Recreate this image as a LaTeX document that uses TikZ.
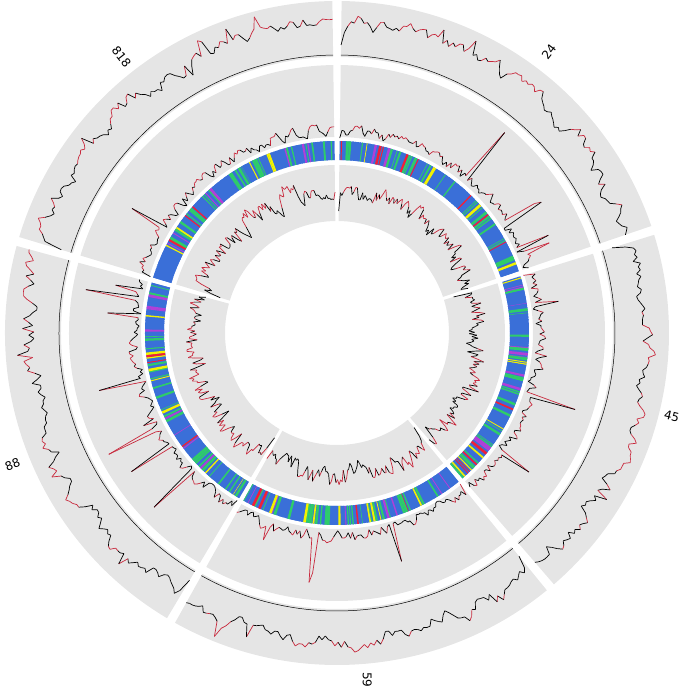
\documentclass[tikz,border=0pt]{standalone}
\usepackage{fontspec}
\setmainfont{DejaVu Sans}
\definecolor{ring}{HTML}{E5E5E5}
\definecolor{lred}{HTML}{C8283C}
\definecolor{bblue}{HTML}{3A6FD8}
\definecolor{bgreen}{HTML}{2ECC6A}
\definecolor{byel}{HTML}{F2F200}
\definecolor{bred}{HTML}{F0203A}
\definecolor{bpur}{HTML}{B040D8}
\newcommand\wedgefill[5]{% a0 a1 r0 r1 color
  \fill[#5] (#1:#3) arc[start angle=#1,end angle=#2,radius=#3] -- (#2:#4) arc[start angle=#2,end angle=#1,radius=#4] -- cycle;}
\newcommand\trk[7]{% a0 a1 base amp thresh spikeamp smoothing
  \pgfmathtruncatemacro\NN{(#1-#2)/0.6}
  \xdef\pa{#1}\xdef\pr{#3}\xdef\pv{0.4}
  \foreach \i in {1,...,\NN}{
    \pgfmathsetmacro\aa{#1-\i*(#1-#2)/\NN}
    \pgfmathsetmacro\vv{#7*\pv+(1-#7)*rnd}
    \pgfmathsetmacro\sp{rnd>0.94?rnd*#6:0}
    \pgfmathsetmacro\rr{#3+#4*\vv+\sp}
    \pgfmathtruncatemacro\hi{(\vv>#5)||(\sp>0)?1:0}
    \ifnum\hi=1 \def\cc{lred}\else\def\cc{black}\fi
    \draw[\cc,line width=0.7pt,line join=round] (\pa:\pr) -- (\aa:\rr);
    \xdef\pa{\aa}\xdef\pr{\rr}\xdef\pv{\vv}
  }}
\newcommand\band[2]{%
  \wedgefill{#1}{#2}{173}{192}{bblue}
  \pgfmathtruncatemacro\NN{(#1-#2)/0.7}
  \foreach \i in {1,...,\NN}{
    \pgfmathsetmacro\aa{#1-\i*(#1-#2)/\NN}
    \pgfmathsetmacro\q{rnd}
    \pgfmathsetmacro\w{0.2+0.7*rnd}
    \pgfmathtruncatemacro\k{\q<0.55?0:(\q<0.8?1:(\q<0.87?2:(\q<0.93?3:4)))}
    \ifcase\k\relax\def\cc{bblue}\or\def\cc{bgreen}\or\def\cc{byel}\or\def\cc{bred}\or\def\cc{bpur}\fi
    \fill[\cc] (\aa:173) -- (\aa:192) -- ({\aa+\w}:192) -- ({\aa+\w}:173) -- cycle;
  }}
\begin{document}
\begin{tikzpicture}[x=1pt,y=1pt]
\useasboundingbox (-337,-362) rectangle (348,333);
\pgfmathsetseed{7}
\def\secs{89.2/18.8,17.2/-49.2,-50.8/-119.2,-120.8/-195.2,-196.8/-269.2}
\foreach \s/\e in \secs{
  \wedgefill{\s}{\e}{276}{332}{ring}
  \draw[black,line width=0.5pt] (\s:278) arc[start angle=\s,end angle=\e,radius=278];
  \wedgefill{\s}{\e}{196}{268}{ring}
  \wedgefill{\s}{\e}{112}{168}{ring}
}
\foreach \s/\e in \secs{
  \band{\s}{\e}
  \trk{\s}{\e}{288}{42}{0.56}{14}{0.72}
  \trk{\s}{\e}{195}{16}{0.62}{60}{0.4}
  \trk{\s}{\e}{122}{40}{0.52}{10}{0.6}
}
\node[font=\large,rotate=53] (l24) at (53:352) {24};
\node[font=\large,rotate=-14] (l45) at (-14:345) {45};
\node[font=\large,rotate=-90] (l59) at (-85:348) {59};
\node[font=\large,rotate=22] (l88) at (202:350) {88};
\node[font=\large,rotate=-52] (l818) at (128:350) {818};
\end{tikzpicture}
\end{document}
